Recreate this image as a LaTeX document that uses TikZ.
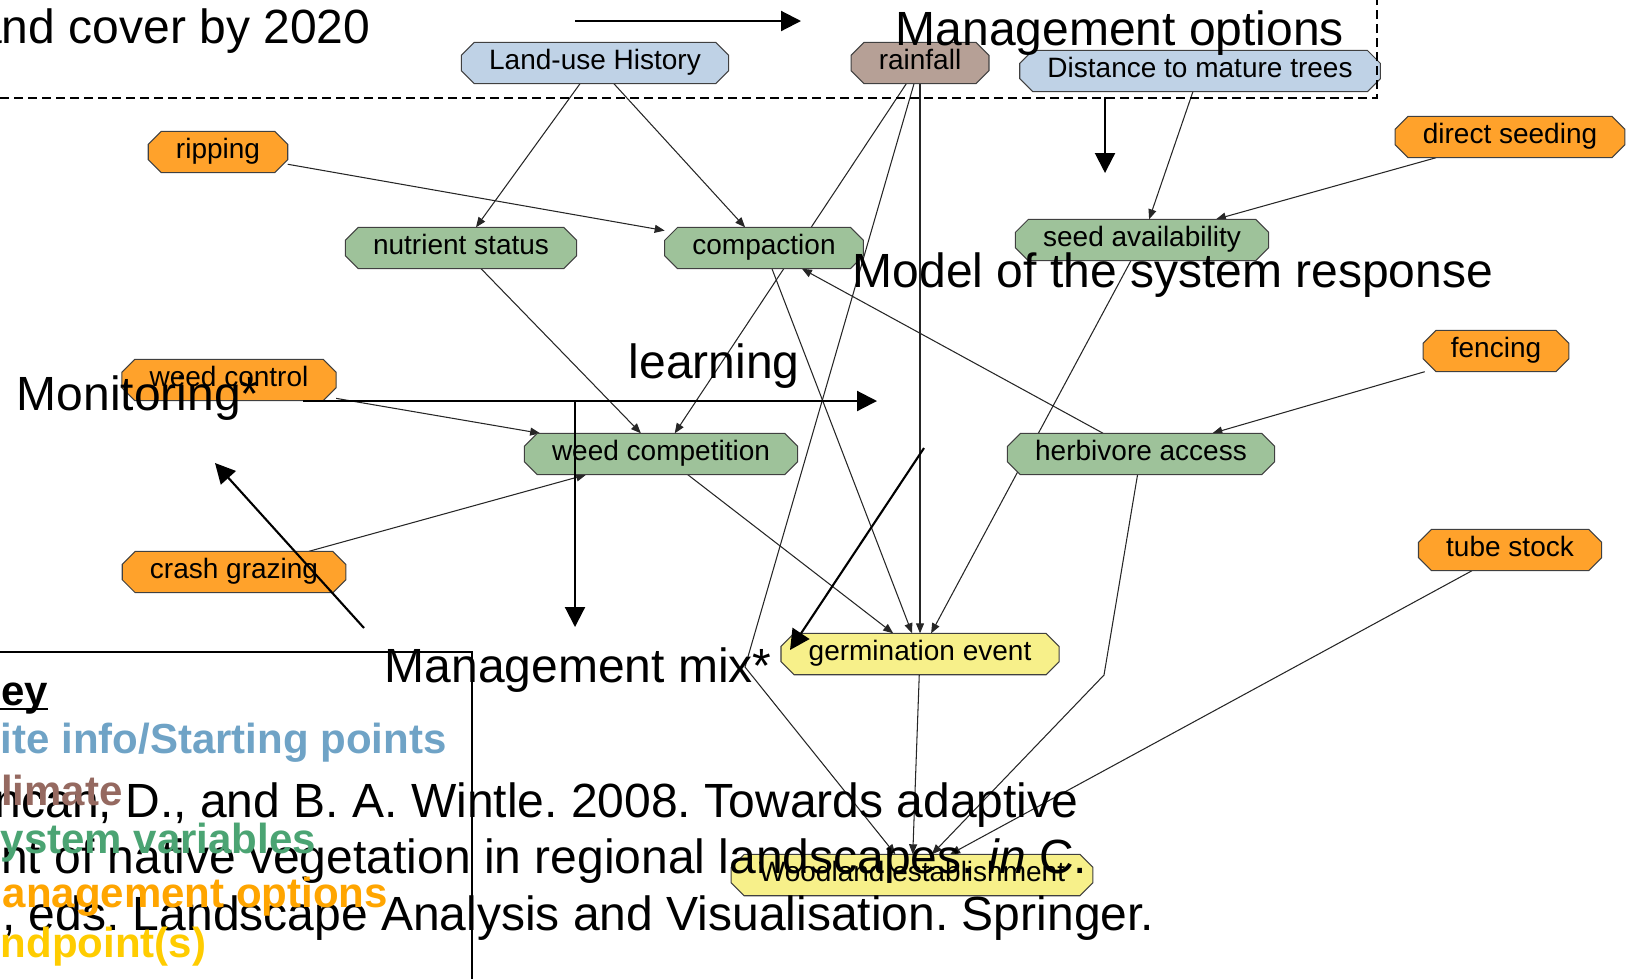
\documentclass[tikz,border=0pt]{standalone}
\usepackage{fontspec}
\setmainfont{Liberation Sans}
\usetikzlibrary{arrows.meta}
\frenchspacing

\definecolor{siteblue}{RGB}{191,210,230}
\definecolor{climbrown}{RGB}{182,160,150}
\definecolor{sysgreen}{RGB}{158,194,154}
\definecolor{mgtorange}{RGB}{255,162,43}
\definecolor{endyellow}{RGB}{247,240,138}
\definecolor{keyblue}{RGB}{111,163,198}
\definecolor{keybrown}{RGB}{149,105,96}
\definecolor{keygreen}{RGB}{75,164,115}
\definecolor{keyorange}{RGB}{255,165,0}
\definecolor{keyyellow}{RGB}{255,204,0}

\newcommand{\bigfont}{\fontsize{13.66pt}{16pt}\selectfont}
\newcommand{\boxfont}{\fontsize{7.97pt}{9pt}\selectfont}
\newcommand{\keyfont}{\fontsize{11.95pt}{14pt}\selectfont\bfseries}
\newcommand{\cham}{0.13cm}

\pgfdeclarelayer{links}
\pgfdeclarelayer{boxes}
\pgfsetlayers{links,boxes,main}

\tikzset{
  var/.style={rectangle, inner xsep=0.27cm, inner ysep=0.11cm,
    text height=0.15cm, text depth=0.03cm, font=\boxfont},
  boxline/.style={draw=black!75, line width=0.3pt},
  conn/.style={-{Triangle[length=0.1cm,width=0.08cm]}, line width=0.3pt, black!85},
  bigarrow/.style={-{Triangle[length=0.2cm,width=0.2cm]}, line width=0.6pt},
  bigtext/.style={inner sep=0pt, font=\bigfont},
  keyline/.style={inner sep=0pt, anchor=base west, font=\keyfont},
}

\begin{document}
\begin{tikzpicture}
\useasboundingbox (0,0) rectangle (16.32,-9.78);

% boxes
\node[var] (landuse) at (5.95,-0.63) {Land-use History};
\node[var] (rainfall) at (9.20,-0.63) {rainfall};
\node[var] (distance) at (12.00,-0.71) {Distance to mature trees};
\node[var] (ripping) at (2.18,-1.52) {ripping};
\node[var] (direct) at (15.10,-1.37) {direct seeding};
\node[var] (nutrient) at (4.61,-2.48) {nutrient status};
\node[var] (compaction) at (7.64,-2.48) {compaction};
\node[var] (seed) at (11.42,-2.40) {seed availability};
\node[var] (weedctl) at (2.29,-3.80) {weed control};
\node[var] (fencing) at (14.96,-3.51) {fencing};
\node[var] (weedcomp) at (6.61,-4.54) {weed competition};
\node[var] (herbivore) at (11.41,-4.54) {herbivore access};
\node[var] (crash) at (2.34,-5.72) {crash grazing};
\node[var] (tube) at (15.10,-5.50) {tube stock};
\node[var] (germ) at (9.20,-6.54) {germination event};
\node[var] (woodland) at (9.12,-8.75) {Woodland establishment};

% chamfered outlines, coloured by kind
\begin{pgfonlayer}{boxes}
\foreach \b/\c in {landuse/siteblue, distance/siteblue, rainfall/climbrown,
    nutrient/sysgreen, compaction/sysgreen, seed/sysgreen, weedcomp/sysgreen, herbivore/sysgreen,
    ripping/mgtorange, direct/mgtorange, weedctl/mgtorange, fencing/mgtorange, crash/mgtorange, tube/mgtorange,
    germ/endyellow, woodland/endyellow}
  \draw[boxline, fill=\c] ([xshift=\cham]\b.north west) -- ([xshift=-\cham]\b.north east)
    -- ([yshift=-\cham]\b.north east) -- ([yshift=\cham]\b.south east)
    -- ([xshift=-\cham]\b.south east) -- ([xshift=\cham]\b.south west)
    -- ([yshift=\cham]\b.south west) -- ([yshift=-\cham]\b.north west) -- cycle;
\end{pgfonlayer}

% links go under the boxes
\coordinate (rainbend) at (7.45,-6.67);
\coordinate (herbbend) at (11.04,-6.75);
\begin{pgfonlayer}{links}
\draw[conn] (landuse) -- (nutrient);
\draw[conn] (landuse) -- (compaction);
\draw[conn] (ripping) -- (compaction);
\draw[conn] (rainfall) -- (weedcomp);
\draw[conn] (rainfall) -- (germ);
\draw[conn] (rainfall) -- (rainbend) -- (woodland);
\draw[conn] (distance) -- (seed);
\draw[conn] (direct) -- (seed);
\draw[conn] (nutrient) -- (weedcomp);
\draw[conn] (compaction) -- (germ);
\draw[conn] (weedctl) -- (weedcomp);
\draw[conn] (crash) -- (weedcomp);
\draw[conn] (herbivore) -- (compaction);
\draw[conn] (fencing) -- (herbivore);
\draw[conn] (seed) -- (germ);
\draw[conn] (weedcomp) -- (germ);
\draw[conn] (herbivore) -- (herbbend) -- (woodland);
\draw[conn] (tube) -- (woodland);
\draw[conn] (germ) -- (woodland);
\end{pgfonlayer}

% dashed frame of the starting points
\coordinate (dashl) at (0,-0.98);
\coordinate (dashc) at (13.77,-0.98);
\coordinate (dasht) at (13.77,0);
\draw[line width=0.4pt, dash pattern=on 0.09cm off 0.05cm] (dashl) -- (dashc) -- (dasht);

% slide titles
\node[bigtext, anchor=base east] (goal) at (3.71,-0.43) {and cover by 2020};
\node[bigtext, anchor=base west] (mgtopt) at (8.95,-0.45) {Management options};
\node[bigtext, anchor=base west] (model) at (8.52,-2.87) {Model of the system response};
\node[bigtext, anchor=base west] (learn) at (6.28,-3.78) {learning};
\node[bigtext, anchor=base west] (monitor) at (0.16,-4.10) {Monitoring*};
\node[bigtext, anchor=base west] (mix) at (3.84,-6.82) {Management mix*};

% reference
\node[bigtext, anchor=base east] (ref1) at (10.79,-8.17) {Duncan, D., and B. A. Wintle. 2008. Towards adaptive};
\node[bigtext, anchor=base east] (ref2) at (10.88,-8.73) {management of native vegetation in regional landscapes. \textit{in} C.};
\node[bigtext, anchor=base east] (ref3) at (11.55,-9.30) {, eds. Landscape Analysis and Visualisation. Springer.};

% key
\draw[line width=0.4pt] (-0.5,-6.52) -- (4.72,-6.52) -- (4.72,-10.5);
\node[keyline] (key) at (-0.30,-7.05) {Key};
\draw[line width=0.6pt] ([yshift=-1.1pt]key.base west) -- ([yshift=-1.1pt]key.base east);
\node[keyline, text=keyblue] (keysite) at (-0.28,-7.53) {Site info/Starting points};
\node[keyline, text=keybrown] (keyclim) at (-0.30,-8.05) {Climate};
\node[keyline, text=keygreen] (keysys) at (-0.28,-8.53) {System variables};
\node[keyline, text=keyorange] (keymgt) at (-0.33,-9.07) {Management options};
\node[keyline, text=keyyellow] (keyend) at (-0.28,-9.57) {Endpoint(s)};

% cycle arrows
\coordinate (goaltail) at (5.75,-0.21);
\coordinate (goalhead) at (8.01,-0.21);
\coordinate (opttail) at (11.05,-0.97);
\coordinate (opthead) at (11.05,-1.73);
\coordinate (montail) at (3.03,-4.01);
\coordinate (monhead) at (8.77,-4.01);
\coordinate (montee) at (5.75,-4.01);
\coordinate (mixhead) at (5.75,-6.27);
\coordinate (backtail) at (3.64,-6.28);
\coordinate (backhead) at (2.15,-4.63);
\coordinate (learntail) at (9.24,-4.48);
\coordinate (learnhead) at (7.90,-6.50);
\draw[bigarrow] (goaltail) -- (goalhead);
\draw[bigarrow] (opttail) -- (opthead);
\draw[bigarrow] (montail) -- (monhead);
\draw[bigarrow] (montee) -- (mixhead);
\draw[bigarrow] (backtail) -- (backhead);
\draw[bigarrow] (learntail) -- (learnhead);
\end{tikzpicture}
\end{document}
